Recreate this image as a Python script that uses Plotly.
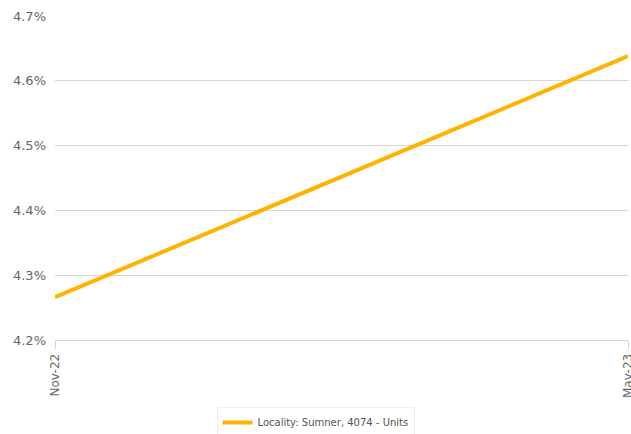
import plotly.graph_objects as go

categories = ["Nov-22", "May-23"]
values = [4.266, 4.638]
series_name = "Locality: Sumner, 4074 - Units"
y_ticks = [4.2, 4.3, 4.4, 4.5, 4.6, 4.7]

fig = go.Figure()
fig.add_trace(go.Scatter(
    x=categories, y=values, mode="lines", name=series_name,
    line=dict(color="#FFB300", width=4),
))

fig.update_layout(
    width=631, height=434,
    margin=dict(l=55, r=3, t=16, b=94),
    paper_bgcolor="white", plot_bgcolor="white",
    font=dict(family="DejaVu Sans", color="#666666"),
    showlegend=True,
    legend=dict(
        orientation="h", x=0.5, xref="container", xanchor="center",
        y=0.062, yref="container", yanchor="top",
        bordercolor="#eeeeee", borderwidth=1,
        font=dict(size=10, color="#555555"),
    ),
    xaxis=dict(
        type="category", range=[0, 1], tickangle=-90, automargin=False,
        showgrid=False, showline=True, linecolor="#ccd6eb", linewidth=1,
        ticks="outside", ticklen=8, tickcolor="#ccd6eb",
        tickfont=dict(size=12, color="#666666"),
    ),
    yaxis=dict(
        range=[4.2, 4.7], tickvals=y_ticks, automargin=False,
        ticktext=[f"{v:.1f}%" for v in y_ticks],
        showgrid=True, gridcolor="#d6d6d6", gridwidth=1,
        zeroline=False, showline=False,
        tickfont=dict(size=13, color="#666666"), ticklabelstandoff=8,
    ),
)

fig.write_html(
    "out.html",
    config={"displayModeBar": False},
    post_script="document.body.style.margin='0';document.body.style.overflow='hidden';",
)
